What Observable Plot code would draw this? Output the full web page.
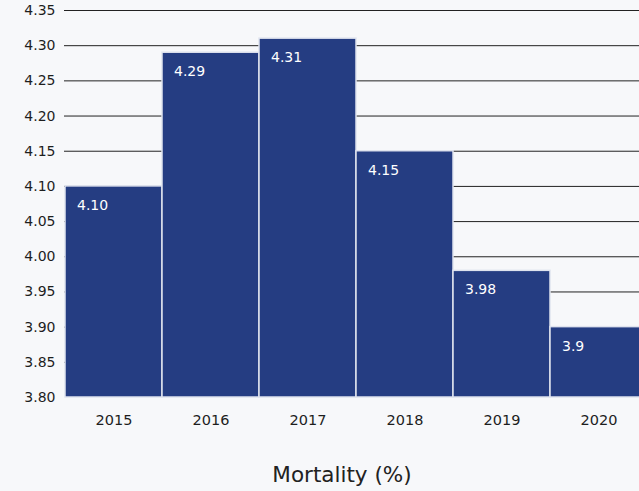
<!DOCTYPE html>
<html><head><meta charset="utf-8">
<script src="https://cdn.jsdelivr.net/npm/d3@7"></script>
<script src="https://cdn.jsdelivr.net/npm/@observablehq/plot@0.6"></script>
<style>
body{margin:0;background:#f7f8fa;font-family:"DejaVu Sans",sans-serif;}
#title{width:639px;text-align:center;font-size:21.5px;color:#222;padding-left:45px;box-sizing:border-box;margin-top:17px;line-height:26px;}
</style></head><body>
<div id="chart"></div>
<div id="title">Mortality (%)</div>
<script>
const years = ["2015","2016","2017","2018","2019","2020"];
const values = [4.10, 4.29, 4.31, 4.15, 3.98, 3.90];
const labels = ["4.10","4.29","4.31","4.15","3.98","3.9"];
const yTicks = [3.80,3.85,3.90,3.95,4.00,4.05,4.10,4.15,4.20,4.25,4.30,4.35];
const data = years.map((y,i)=>({year:y,value:values[i],label:labels[i]}));
const chart = Plot.plot({
  width: 639, height: 445,
  marginTop: 10, marginBottom: 48, marginLeft: 64, marginRight: 0,
  style: {background: "#f7f8fa", fontFamily: "DejaVu Sans, sans-serif", fontSize: "14px", color: "#1e1e1e"},
  x: {domain: years, range: [64, 647], padding: 0, label: null, tickSize: 0, tickPadding: 17},
  y: {domain: [3.80, 4.35], ticks: yTicks, tickFormat: d3.format(".2f"), label: null, tickSize: 0, tickPadding: 9},
  marks: [
    Plot.ruleY(yTicks.slice(1), {stroke: "#222", strokeWidth: 1}),
    Plot.barY(data, {x: "year", y1: 3.80, y2: "value", fill: "#253d82", stroke: "#dfe3ee", strokeWidth: 1.5}),
    Plot.text(data, {x: "year", y: "value", text: "label", dx: -37, dy: 19, textAnchor: "start", fill: "white", fontSize: 14})
  ]
});
chart.querySelectorAll("[aria-label='x-axis tick label'] text").forEach(t => t.setAttribute("font-size", "14.5"));
document.getElementById("chart").appendChild(chart);
</script>
</body></html>
